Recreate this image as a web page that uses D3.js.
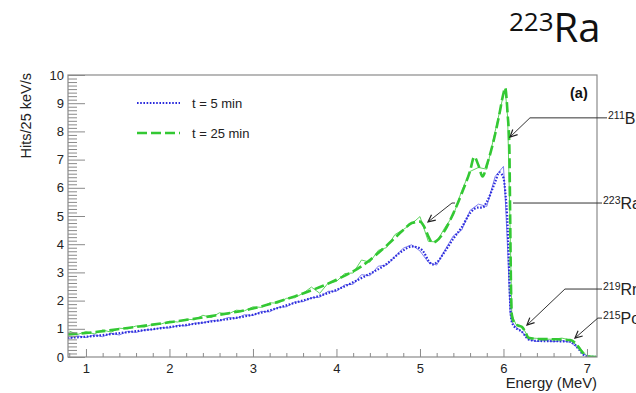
<!DOCTYPE html>
<html>
<head>
<meta charset="utf-8">
<script src="https://cdn.jsdelivr.net/npm/d3@7"></script>
<style>
  body { margin: 0; background: #fff; }
  svg { display: block; font-family: "Liberation Sans", Arial, sans-serif; }
</style>
</head>
<body>
<div id="chart"></div>
<script>
// fitted curves (smooth), energy in MeV
const fitEnergy = [0.78, 1.0, 1.5, 2.0, 2.5, 3.0, 3.5, 4.0, 4.3, 4.6, 4.8, 4.9, 5.0, 5.05, 5.1, 5.15, 5.2, 5.3, 5.4, 5.5,
  5.6, 5.65, 5.7, 5.75, 5.8, 5.9, 5.95, 6.0, 6.02, 6.05, 6.07, 6.08, 6.09, 6.1, 6.13, 6.17, 6.22, 6.26, 6.3, 6.4,
  6.6, 6.8, 6.85, 6.9, 6.95, 7.0, 7.12];
const fit5 = [0.68, 0.72, 0.88, 1.06, 1.26, 1.50, 1.92, 2.38, 2.80, 3.30, 3.78, 3.92, 3.85, 3.70, 3.42, 3.28, 3.35, 3.75, 4.20, 4.60,
  5.10, 5.25, 5.30, 5.30, 5.50, 6.20, 6.55, 6.35, 5.90, 4.60, 2.80, 1.90, 1.45, 1.25, 1.08, 0.98, 0.90, 0.75, 0.62, 0.57,
  0.56, 0.55, 0.45, 0.28, 0.10, 0.01, 0.00];
const fit25 = [0.80, 0.85, 1.03, 1.23, 1.45, 1.72, 2.15, 2.74, 3.22, 3.95, 4.50, 4.75, 4.80, 4.62, 4.28, 4.05, 4.12, 4.50, 5.10, 5.80,
  6.60, 7.10, 6.80, 6.40, 6.80, 7.90, 8.60, 9.35, 9.55, 8.60, 7.50, 5.00, 2.50, 1.50, 1.20, 1.12, 1.07, 0.90, 0.68, 0.64,
  0.63, 0.60, 0.52, 0.35, 0.15, 0.02, 0.00];

// measured spectra (noisy)
const binEnergy = [0.8, 0.9, 1.0, 1.1, 1.2, 1.3, 1.4, 1.5, 1.6, 1.7, 1.8, 1.9, 2.0, 2.1, 2.2, 2.3, 2.4, 2.5, 2.6, 2.7,
  2.8, 2.9, 3.0, 3.1, 3.2, 3.3, 3.4, 3.5, 3.6, 3.7, 3.8, 3.9, 4.0, 4.1, 4.2, 4.3, 4.4, 4.5, 4.6, 4.7,
  4.8, 4.9, 5.0, 5.1, 5.2, 5.3, 5.4, 5.5, 5.6, 5.7, 5.8, 5.9, 6.0,
  6.02, 6.05, 6.08, 6.1, 6.15, 6.2, 6.25, 6.3, 6.4, 6.5, 6.6, 6.7, 6.8, 6.9, 7.0, 7.1];
const meas5 = [0.66, 0.75, 0.69, 0.79, 0.72, 0.84, 0.78, 0.91, 0.87, 0.96,
  0.97, 1.04, 1.03, 1.12, 1.10, 1.20, 1.21, 1.29, 1.28, 1.40,
  1.37, 1.50, 1.47, 1.62, 1.60, 1.76, 1.78, 1.95, 1.96, 2.10,
  2.12, 2.33, 2.33, 2.56, 2.58, 2.92, 2.88, 3.22, 3.26, 3.56,
  3.86, 3.98, 3.76, 3.36, 3.26, 3.80, 4.30, 4.50, 5.20, 5.42,
  5.34, 6.40, 6.76,
  5.70, 3.80, 1.50, 1.25, 1.05, 0.95, 0.80, 0.62, 0.55, 0.59, 0.54, 0.58, 0.52, 0.30, 0.02, 0.00];
const meas25 = [0.92, 0.80, 0.90, 0.82, 0.96, 0.88, 1.02, 1.00, 1.10, 1.06,
  1.16, 1.17, 1.27, 1.24, 1.34, 1.32, 1.48, 1.40, 1.57, 1.52,
  1.66, 1.64, 1.78, 1.76, 1.92, 1.91, 2.08, 2.10, 2.26, 2.48,
  2.26, 2.62, 2.68, 2.96, 2.98, 3.44, 3.36, 3.78, 3.88, 4.34,
  4.52, 4.72, 4.98, 4.10, 4.08, 4.60, 5.02, 5.90, 6.58, 6.72,
  6.66, 8.00, 9.30,
  9.50, 8.50, 4.50, 1.50, 1.15, 1.12, 0.95, 0.68, 0.66, 0.63, 0.63, 0.67, 0.60, 0.36, 0.04, 0.00];

const seriesNames = ["t = 5 min", "t = 25 min"];
const xTicks = [1, 2, 3, 4, 5, 6, 7];
const yTicks = [0, 1, 2, 3, 4, 5, 6, 7, 8, 9, 10];

// peak annotations: tip, elbow, end in (MeV, hits)
const notes = [
  { sup: "211", name: "Bi", pts: [[6.078, 7.8], [6.317, 8.48], [7.24, 8.48]], arrow: true },
  { sup: "223", name: "Ra", pts: [[6.114, 5.46], [7.18, 5.46]], arrow: false },
  { sup: "219", name: "Rn", pts: [[6.281, 1.13], [6.736, 2.41], [7.18, 2.41]], arrow: true },
  { sup: "215", name: "Po", pts: [[6.856, 0.67], [7.13, 1.38], [7.18, 1.38]], arrow: true },
  { sup: null, name: null, pts: [[5.096, 4.79], [5.383, 5.46], [5.42, 5.46]], arrow: true }
];

const width = 636, height = 393;
const svg = d3.select("#chart").append("svg").attr("width", width).attr("height", height);

const x = d3.scaleLinear().domain([0.785, 7.12]).range([68, 597]);
const y = d3.scaleLinear().domain([0, 10]).range([357, 75]);

svg.append("clipPath").attr("id", "plot")
  .append("rect").attr("x", 68).attr("y", 75).attr("width", 529).attr("height", 282);

const styles = [
  { thin: "#8080f0", fit: "#2b2bdc", w: 2.2, dash: "1.6,1.6" },
  { thin: "#5fd45f", fit: "#33c833", w: 2.6, dash: "10,4" }
];

const line = d3.line().x(d => x(d[0])).y(d => y(d[1]));
const smooth = d3.line().x(d => x(d[0])).y(d => y(d[1])).curve(d3.curveMonotoneX);

const plot = svg.append("g").attr("clip-path", "url(#plot)");
[meas5, meas25].forEach((vals, i) => {
  plot.append("path")
    .datum(binEnergy.map((e, j) => [e, vals[j]]))
    .attr("fill", "none").attr("stroke", styles[i].thin).attr("stroke-width", 1)
    .attr("d", line);
});
[fit5, fit25].forEach((vals, i) => {
  plot.append("path")
    .datum(fitEnergy.map((e, j) => [e, vals[j]]))
    .attr("fill", "none").attr("stroke", styles[i].fit)
    .attr("stroke-width", styles[i].w).attr("stroke-dasharray", styles[i].dash)
    .attr("d", smooth);
});

// axes
const axisColor = "#8a8a8a";
const xMinor = d3.range(0.8, 7.11, 0.2).filter(v => Math.abs(v - Math.round(v)) > 0.01);
const yMinor = d3.range(0, 10.01, 0.125).filter(v => Math.abs(v - Math.round(v)) > 0.01);

svg.append("g").attr("transform", "translate(0,357)")
  .call(d3.axisBottom(x).tickValues(xMinor).tickSize(-4).tickFormat(""))
  .call(g => g.select(".domain").remove());
svg.append("g").attr("transform", "translate(0,357)")
  .call(d3.axisBottom(x).tickValues(xTicks).tickSize(-8).tickPadding(7).tickFormat(d3.format("d")))
  .call(g => g.select(".domain").remove());
svg.append("g").attr("transform", "translate(68,0)")
  .call(d3.axisLeft(y).tickValues(yMinor).tickSize(-9).tickFormat(""))
  .call(g => g.select(".domain").remove());
svg.append("g").attr("transform", "translate(68,0)")
  .call(d3.axisLeft(y).tickValues(yTicks).tickSize(-17).tickPadding(4).tickFormat(d3.format("d")))
  .call(g => g.select(".domain").remove());

svg.selectAll(".tick line").attr("stroke", axisColor);
svg.selectAll(".tick text").attr("font-size", 13).attr("fill", "#222")
  .attr("font-family", "'Liberation Sans', Arial, sans-serif");

svg.append("rect").attr("x", 68).attr("y", 75).attr("width", 529).attr("height", 282)
  .attr("fill", "none").attr("stroke", axisColor).attr("stroke-width", 1.2);

// axis titles
svg.append("text").attr("transform", "translate(31,73) rotate(-90)")
  .attr("text-anchor", "end").attr("font-size", 14.5).attr("fill", "#222").text("Hits/25 keV/s");
svg.append("text").attr("x", 597).attr("y", 388)
  .attr("text-anchor", "end").attr("font-size", 14.8).attr("fill", "#222").text("Energy (MeV)");

// legend
const legend = svg.append("g");
seriesNames.forEach((name, i) => {
  const ly = 103 + i * 30;
  legend.append("line").attr("x1", 137).attr("x2", 180).attr("y1", ly).attr("y2", ly)
    .attr("stroke", styles[i].fit).attr("stroke-width", styles[i].w)
    .attr("stroke-dasharray", styles[i].dash);
  legend.append("text").attr("x", 192).attr("y", ly + 4.5).attr("font-size", 13)
    .attr("fill", "#222").text(name);
});

svg.append("text").attr("x", 570).attr("y", 98).attr("font-size", 14.5)
  .attr("font-weight", "bold").attr("fill", "#111").text("(a)");

// annotations
notes.forEach(n => {
  const p = n.pts.map(d => [x(d[0]), y(d[1])]);
  svg.append("path").attr("d", d3.line()(p.slice().reverse()))
    .attr("fill", "none").attr("stroke", "#333").attr("stroke-width", 1);
  if (n.arrow) {
    const [tx, ty] = p[0], [sx, sy] = p[1];
    const a = Math.atan2(sy - ty, sx - tx), L = 8, s = 0.45;
    const head = [[tx + L * Math.cos(a - s), ty + L * Math.sin(a - s)], [tx, ty],
      [tx + L * Math.cos(a + s), ty + L * Math.sin(a + s)]];
    svg.append("path").attr("d", d3.line()(head))
      .attr("fill", "none").attr("stroke", "#222").attr("stroke-width", 1.2);
  }
  if (n.name) {
    const end = p[p.length - 1];
    const t = svg.append("text").attr("x", end[0] + 1).attr("y", end[1] + 6).attr("fill", "#222");
    t.append("tspan").attr("font-size", 10.5).attr("dy", -5).text(n.sup);
    t.append("tspan").attr("font-size", 16).attr("dy", 5).text(n.name);
  }
});

// title
const title = svg.append("text").attr("x", 509).attr("y", 42).attr("fill", "#111")
  .attr("font-family", "'Open Sans', 'Noto Sans', sans-serif");
title.append("tspan").attr("font-size", 26).attr("dy", -11).text("223");
title.append("tspan").attr("font-size", 40).attr("dy", 11).text("Ra");
</script>
</body>
</html>
